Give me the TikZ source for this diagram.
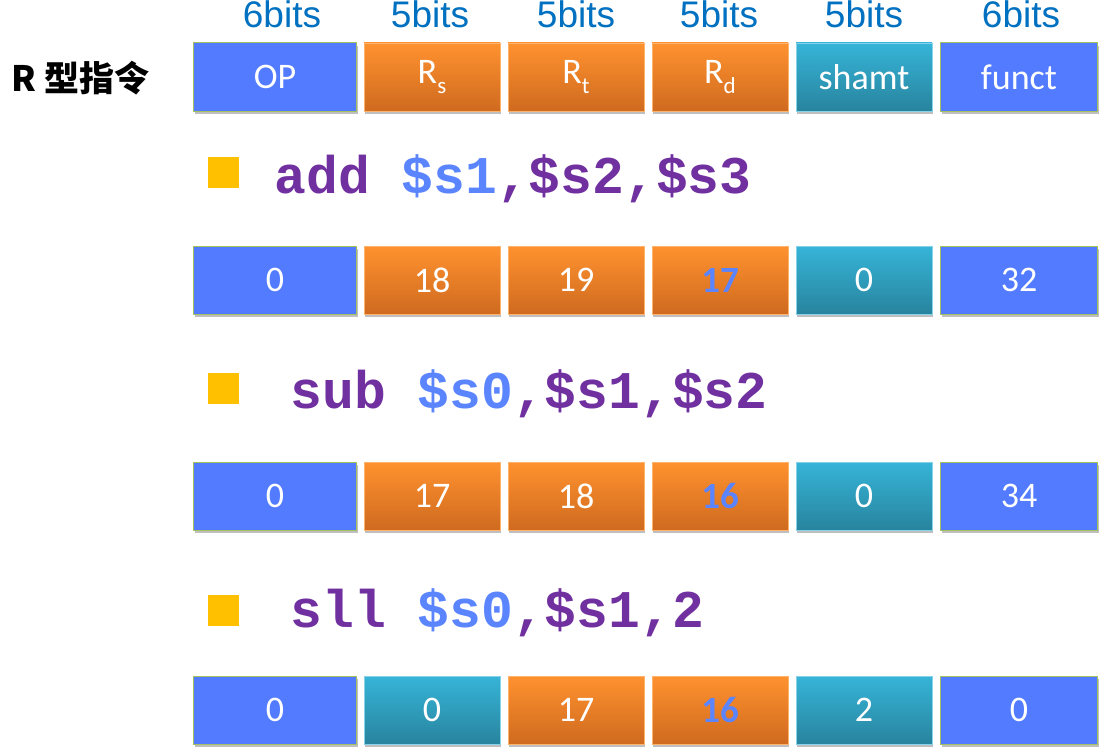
\documentclass[tikz,border=0pt]{standalone}
\usepackage{fontspec}
\usepackage{xcolor}
\usepackage{tikz}
\usetikzlibrary{shadows}
\setmainfont{Carlito}
\newfontfamily\arialf{Liberation Sans}
\newfontfamily\courf{Liberation Mono}
\newfontfamily\cjk{Noto Sans CJK SC}
\definecolor{opblue}{HTML}{527BFF}
\definecolor{opedge}{HTML}{A3C060}
\definecolor{ortop}{HTML}{FF922F}
\definecolor{orbot}{HTML}{CF6A1F}
\definecolor{tltop}{HTML}{36B4D8}
\definecolor{tlbot}{HTML}{28849E}
\definecolor{bitblue}{HTML}{0070C0}
\definecolor{insnpurple}{HTML}{7030A0}
\definecolor{regblue}{HTML}{5B84FF}
\definecolor{bulletyel}{HTML}{FFC000}
\newcommand{\fsz}[1]{\fontsize{#1}{#1}\selectfont}
\newcommand{\subx}[1]{\raisebox{-0.3em}{\fsz{23}#1}}
\tikzset{
field/.style={minimum height=68pt, inner sep=0pt, text=white, font=\fsz{36},
 drop shadow={shadow xshift=1pt, shadow yshift=-3pt, opacity=.25, fill=black}},
opf/.style={field, fill=opblue, draw=opedge, line width=1pt, minimum width=163pt},
fnf/.style={opf, minimum width=157pt},
regf/.style={field, top color=ortop, bottom color=orbot, draw=ortop!70!white, minimum width=136pt},
shf/.style={field, top color=tltop, bottom color=tlbot, draw=tltop!60!white, minimum width=136pt},
hot/.style={text=regblue, font=\bfseries\fsz{37}},
bitlab/.style={anchor=base, text=bitblue, font=\arialf\fsz{37}},
insn/.style={anchor=base west, text=insnpurple, font=\courf\bfseries\fsz{53}},
bulletsq/.style={fill=bulletyel, minimum size=31pt, inner sep=0pt}
}
\begin{document}
\begin{tikzpicture}[x=1pt,y=-1pt]
\useasboundingbox (0,0) rectangle (1105,752);

\node[anchor=west, font=\cjk\bfseries\fsz{35}] (rtype) at (8,78) {R 型指令};

\node[opf] (op) at (275,77) {OP};
\node[regf] (rs) at (432,77) {R\subx{s}};
\node[regf] (rt) at (576,77) {R\subx{t}};
\node[regf] (rd) at (720,77) {R\subx{d}};
\node[shf] (sh) at (864,77) {shamt};
\node[fnf] (fn) at (1019,77) {funct};

\node[bitlab] (bop) at (282,28) {6bits};
\node[bitlab] (brs) at (430,28) {5bits};
\node[bitlab] (brt) at (576,28) {5bits};
\node[bitlab] (brd) at (719,28) {5bits};
\node[bitlab] (bsh) at (864,28) {5bits};
\node[bitlab] (bfn) at (1021,28) {6bits};

\node[bulletsq] (ba) at (223,172) {};
\node[insn] (add) at (271,193) {add \textcolor{regblue}{\$s1},\$s2,\$s3};

\node[opf] (op1) at (275,280) {0};
\node[regf] (rs1) at (432,280) {18};
\node[regf] (rt1) at (576,280) {19};
\node[regf, hot] (rd1) at (720,280) {17};
\node[shf] (sh1) at (864,280) {0};
\node[fnf] (fn1) at (1019,280) {32};

\node[bulletsq] (bs) at (223,388) {};
\node[insn] (sub) at (287,408) {sub \textcolor{regblue}{\$s0},\$s1,\$s2};

\node[opf] (op2) at (275,496) {0};
\node[regf] (rs2) at (432,496) {17};
\node[regf] (rt2) at (576,496) {18};
\node[regf, hot] (rd2) at (720,496) {16};
\node[shf] (sh2) at (864,496) {0};
\node[fnf] (fn2) at (1019,496) {34};

\node[bulletsq] (bl) at (223,610) {};
\node[insn] (sll) at (287,627) {sll \textcolor{regblue}{\$s0},\$s1,2};

\node[opf] (op3) at (275,710) {0};
\node[shf] (rs3) at (432,710) {0};
\node[regf] (rt3) at (576,710) {17};
\node[regf, hot] (rd3) at (720,710) {16};
\node[shf] (sh3) at (864,710) {2};
\node[fnf] (fn3) at (1019,710) {0};
\end{tikzpicture}
\end{document}
